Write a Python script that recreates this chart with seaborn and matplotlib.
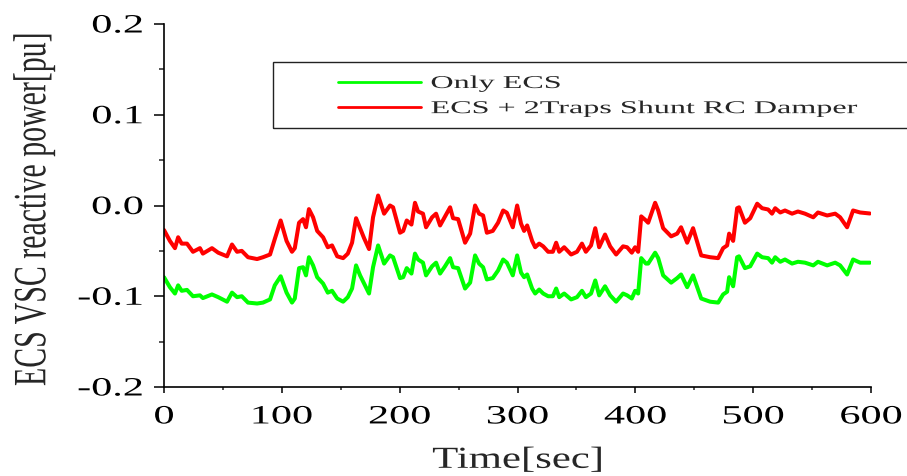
import numpy as np
import pandas as pd
import matplotlib
matplotlib.use("Agg")
import matplotlib.pyplot as plt
import seaborn as sns
from matplotlib.patheffects import AbstractPathEffect
from matplotlib.transforms import Affine2D
from matplotlib.ticker import MultipleLocator, FormatStrFormatter
from matplotlib.lines import Line2D
from matplotlib.patches import Rectangle

# ---------------- data ----------------
time_s = [0, 5, 9.3, 12, 15, 19.5, 24.6, 30.5, 33, 40.7, 46, 53.5, 57.7, 62, 66, 71.3,
          79, 84, 90, 94, 99, 104, 108.6, 111, 114.6, 118, 120.5, 123, 126.5, 130, 135,
          139, 142.6, 147, 152, 156, 159.6, 163, 166.4, 169.8, 174, 177.4, 181.7, 186.8,
          191.8, 194.4, 200.3, 203, 206, 210, 213, 215.6, 219.8, 222.4, 227.5, 230.9,
          234.3, 238.5, 242.8, 245.3, 249.6, 255.5, 259.8, 264, 267.4, 270.8, 274, 279,
          283.5, 287.8, 291, 296, 299.7, 303, 305.6, 308.2, 312.4, 315, 318.4, 321.8,
          326, 330, 332.8, 335.4, 339.6, 345.5, 350.5, 354.7, 358, 362.4, 366, 369.3,
          374.3, 378.6, 383.7, 389.6, 393, 397, 399.8, 402.4, 405, 409, 410.9, 416.8,
          419.4, 423.6, 430.4, 435.5, 438.8, 444, 449, 455.9, 463.5, 470.3, 474.5, 477.9,
          479.6, 483, 486.4, 488, 493, 497.5, 503.4, 507.6, 512.7, 516, 518.7, 523, 527,
          533, 538, 544, 551, 555, 562.8, 569.6, 573.8, 579.7, 584.8, 590.8, 599]

only_ecs = [-0.079, -0.090, -0.097, -0.088, -0.094, -0.093, -0.100, -0.099, -0.102, -0.098,
            -0.101, -0.106, -0.096, -0.101, -0.100, -0.107, -0.108, -0.107, -0.1035, -0.088,
            -0.078, -0.096, -0.107, -0.1025, -0.069, -0.068, -0.077, -0.057, -0.066, -0.079,
            -0.086, -0.096, -0.094, -0.1025, -0.106, -0.101, -0.0915, -0.066, -0.077, -0.086,
            -0.097, -0.068, -0.044, -0.064, -0.055, -0.057, -0.080, -0.079, -0.069, -0.075,
            -0.053, -0.0595, -0.063, -0.077, -0.067, -0.063, -0.075, -0.067, -0.058, -0.068,
            -0.069, -0.0915, -0.085, -0.055, -0.064, -0.068, -0.0815, -0.080, -0.0716, -0.0595,
            -0.063, -0.077, -0.055, -0.074, -0.079, -0.076, -0.0915, -0.097, -0.0926, -0.097,
            -0.100, -0.100, -0.0915, -0.101, -0.097, -0.1035, -0.101, -0.094, -0.101, -0.097,
            -0.0826, -0.099, -0.089, -0.099, -0.106, -0.097, -0.099, -0.1025, -0.094, -0.097,
            -0.058, -0.064, -0.064, -0.052, -0.058, -0.077, -0.085, -0.080, -0.076, -0.090,
            -0.077, -0.1025, -0.106, -0.107, -0.098, -0.095, -0.079, -0.089, -0.057, -0.056,
            -0.069, -0.067, -0.053, -0.057, -0.058, -0.063, -0.057, -0.062, -0.0595, -0.064,
            -0.062, -0.063, -0.066, -0.062, -0.066, -0.063, -0.066, -0.076, -0.0595, -0.063,
            -0.063]

ecs_damper = [-0.027, -0.039, -0.047, -0.035, -0.042, -0.042, -0.051, -0.047, -0.053, -0.047,
              -0.052, -0.056, -0.043, -0.051, -0.050, -0.057, -0.059, -0.057, -0.054, -0.037,
              -0.0165, -0.039, -0.051, -0.047, -0.019, -0.015, -0.024, -0.004, -0.013, -0.028,
              -0.035, -0.046, -0.044, -0.056, -0.058, -0.053, -0.041, -0.014, -0.025, -0.036,
              -0.048, -0.013, 0.011, -0.009, 0.0, -0.002, -0.030, -0.028, -0.0165, -0.021,
              0.003, -0.0066, -0.009, -0.024, -0.013, -0.009, -0.022, -0.012, -0.002, -0.014,
              -0.015, -0.041, -0.031, 0.0, -0.009, -0.011, -0.030, -0.028, -0.019, -0.0055,
              -0.008, -0.024, 0.0, -0.020, -0.028, -0.022, -0.039, -0.046, -0.042, -0.045,
              -0.051, -0.051, -0.041, -0.051, -0.046, -0.054, -0.051, -0.042, -0.051, -0.044,
              -0.025, -0.046, -0.032, -0.045, -0.054, -0.045, -0.046, -0.052, -0.046, -0.051,
              -0.012, -0.0165, -0.019, 0.003, -0.0055, -0.025, -0.034, -0.031, -0.024, -0.041,
              -0.025, -0.055, -0.057, -0.058, -0.047, -0.044, -0.031, -0.039, -0.003, -0.002,
              -0.019, -0.014, 0.002, -0.003, -0.0044, -0.009, -0.003, -0.0077, -0.0055, -0.009,
              -0.0066, -0.009, -0.013, -0.0077, -0.011, -0.009, -0.013, -0.024, -0.0055, -0.0077,
              -0.0088]

series_labels = ["Only ECS", "ECS + 2Traps Shunt RC Damper"]
series_colors = ["#00FF00", "#FF0000"]
x_ticks = [0, 100, 200, 300, 400, 500, 600]
y_ticks = [-0.2, -0.1, 0.0, 0.1, 0.2]
x_label = "Time[sec]"
y_label = "ECS VSC reactive power[pu]"


# horizontal stretch of glyphs (the reference text is drawn wide)
class StretchX(AbstractPathEffect):
    def __init__(self, sx, anchor="center"):
        super().__init__()
        self.sx = sx
        self.anchor = anchor

    def draw_path(self, renderer, gc, tpath, affine, rgbFace=None):
        ext = tpath.get_extents(affine)
        if self.anchor == "left":
            x0 = ext.x0
        elif self.anchor == "right":
            x0 = ext.x1
        else:
            x0 = 0.5 * (ext.x0 + ext.x1)
        tr = affine + Affine2D().translate(-x0, 0).scale(self.sx, 1.0).translate(x0, 0)
        renderer.draw_path(gc, tpath, tr, rgbFace)


sns.set_style("ticks")
plt.rcParams["font.family"] = ["Liberation Serif", "DejaVu Serif"]
plt.rcParams["axes.unicode_minus"] = False

df = pd.DataFrame({
    "time": time_s + time_s,
    "value": only_ecs + ecs_damper,
    "series": [series_labels[0]] * len(time_s) + [series_labels[1]] * len(time_s),
})

fig = plt.figure(figsize=(9.07, 4.76), dpi=100)
fig.patch.set_facecolor("white")
ax = fig.add_axes([164 / 907, 1 - 387 / 476, 707 / 907, 363 / 476])

sns.lineplot(data=df, x="time", y="value", hue="series",
             palette=dict(zip(series_labels, series_colors)),
             estimator=None, sort=False, linewidth=2.9, legend=False, ax=ax)
for ln in ax.get_lines():
    ln.set_solid_joinstyle("round")
    ln.set_solid_capstyle("round")

ax.set_xlim(0, 600)
ax.set_ylim(-0.2, 0.2)
ax.set_xticks(x_ticks)
ax.set_yticks(y_ticks)
ax.xaxis.set_minor_locator(MultipleLocator(50))
ax.yaxis.set_minor_locator(MultipleLocator(0.05))
ax.yaxis.set_major_formatter(FormatStrFormatter("%.1f"))
for s in ["top", "right"]:
    ax.spines[s].set_visible(False)
for s in ["left", "bottom"]:
    ax.spines[s].set_linewidth(1.2)
    ax.spines[s].set_color("black")
ax.tick_params(axis="y", which="major", direction="out", length=7, width=1.1,
               labelsize=19, pad=8, colors="black")
ax.tick_params(axis="y", which="minor", direction="out", length=3.6, width=1.1)
ax.tick_params(axis="x", which="major", direction="out", length=4, width=1.1,
               labelsize=19, pad=10, colors="black")
ax.tick_params(axis="x", which="minor", direction="out", length=2.3, width=1.1)

for t in ax.get_yticklabels():
    t.set_path_effects([StretchX(1.6, "right")])
for t in ax.get_xticklabels():
    t.set_path_effects([StretchX(1.6, "center")])

ax.set_xlabel(x_label, fontsize=22)
ax.set_ylabel(y_label, fontsize=21.5)
ax.xaxis.set_label_coords(0.5, -0.162)
ax.yaxis.set_label_coords(-0.165, 0.49)
ax.xaxis.label.set_path_effects([StretchX(1.4, "center")])
ax.yaxis.label.set_path_effects([StretchX(1.55, "center")])

# legend frame (extends past the right edge like in the reference)
frame = Rectangle((273 / 907, 1 - 128 / 476), 700 / 907, 66 / 476,
                  transform=fig.transFigure, facecolor="none",
                  edgecolor="#222222", linewidth=1.0)
fig.patches.append(frame)

handles = [Line2D([], [], color=c, linewidth=2.0) for c in series_colors]
leg = fig.legend(handles, series_labels, loc="upper left",
                 bbox_to_anchor=(338 / 907, 1 - 75 / 476), frameon=False,
                 borderpad=0, borderaxespad=0, handlelength=4.6, handletextpad=0.55,
                 labelspacing=0.45, fontsize=13)
for t in leg.get_texts():
    t.set_path_effects([StretchX(1.78, "left")])

fig.savefig("out.png", dpi=100, facecolor="white")
